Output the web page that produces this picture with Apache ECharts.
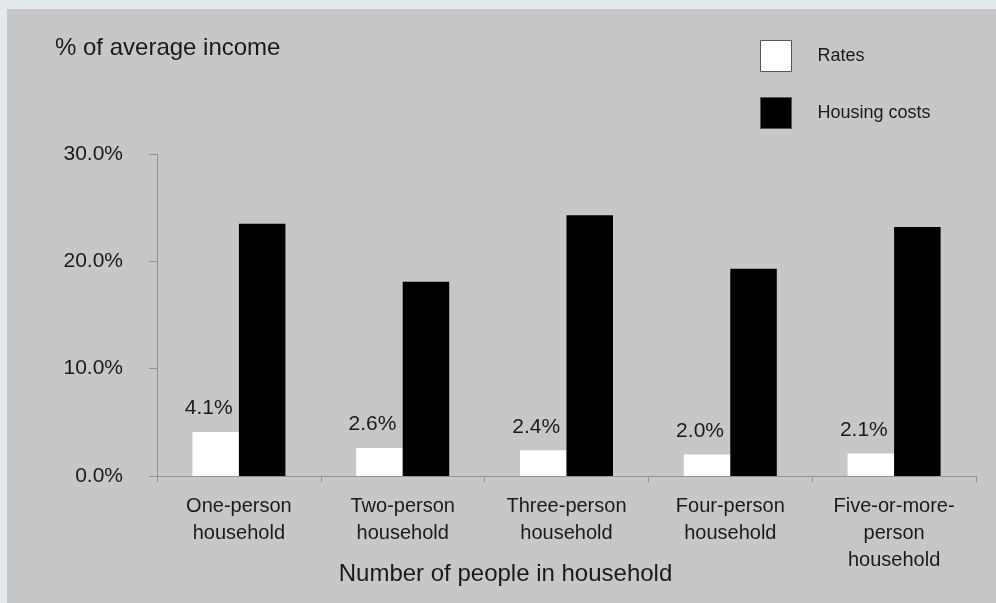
<!DOCTYPE html>
<html>
<head>
<meta charset="utf-8">
<script src="https://cdn.jsdelivr.net/npm/echarts@6/dist/echarts.min.js"></script>
<style>
  html, body { margin: 0; padding: 0; background: #e3ebee; width: 996px; height: 603px; overflow: hidden; }
  #chart { position: absolute; left: 7px; top: 9px; width: 989px; height: 594px; background: #c6c7c9; }
</style>
</head>
<body>
<div id="chart"></div>
<script>
// Household size categories (x axis)
const categories = [
  'One-person\nhousehold',
  'Two-person\nhousehold',
  'Three-person\nhousehold',
  'Four-person\nhousehold',
  'Five-or-more-\nperson\nhousehold'
];
// Share of average income, percent
const rates = [4.1, 2.6, 2.4, 2.0, 2.1];
const housingCosts = [23.5, 18.1, 24.3, 19.3, 23.2];
// Value axis ticks
const yMin = 0, yMax = 30, yStep = 10;

const FONT = '"Liberation Sans", Arial, Helvetica, sans-serif';
const INK = '#1a1a1a';
const AXIS = '#939393';

const chart = echarts.init(document.getElementById('chart'), null, { renderer: 'canvas' });
chart.setOption({
  animation: false,
  backgroundColor: 'transparent',
  textStyle: { fontFamily: FONT, color: INK },
  title: {
    text: '% of average income',
    left: 48,
    top: 27,
    padding: 0,
    textStyle: { fontFamily: FONT, fontSize: 24, fontWeight: 'normal', color: INK }
  },
  legend: {
    orient: 'vertical',
    left: 753,
    top: 31,
    padding: 0,
    itemWidth: 31,
    itemHeight: 31,
    itemGap: 25,
    icon: 'rect',
    selectedMode: false,
    data: [
      { name: 'Rates', itemStyle: { color: '#ffffff', borderColor: '#555555', borderWidth: 1 } },
      { name: 'Housing costs', itemStyle: { color: '#000000', borderColor: '#555555', borderWidth: 1 } }
    ],
    textStyle: { fontFamily: FONT, fontSize: 18, color: INK, padding: [0, 0, 0, 21] }
  },
  grid: { left: 150, right: 20, top: 145, bottom: 127, containLabel: false, outerBoundsMode: 'none' },
  xAxis: {
    type: 'category',
    data: categories,
    name: 'Number of people in household',
    nameLocation: 'middle',
    nameGap: 86,
    nameMoveOverlap: false,
    nameTextStyle: { fontFamily: FONT, fontSize: 24, color: INK, padding: [0, 122, 0, 0] },
    axisLine: { show: true, lineStyle: { color: AXIS, width: 1 } },
    axisTick: { show: true, length: 6, alignWithLabel: false, lineStyle: { color: AXIS } },
    axisLabel: { interval: 0, fontFamily: FONT, fontSize: 20, lineHeight: 27, color: INK, margin: 17 },
    splitLine: { show: false }
  },
  yAxis: {
    type: 'value',
    min: yMin,
    max: yMax,
    interval: yStep,
    axisLine: { show: true, lineStyle: { color: AXIS, width: 1 } },
    axisTick: { show: true, length: 8, inside: false, lineStyle: { color: AXIS } },
    axisLabel: {
      fontFamily: FONT, fontSize: 21, color: INK, margin: 34,
      formatter: v => v.toFixed(1) + '%'
    },
    splitLine: { show: false }
  },
  series: [
    {
      name: 'Rates',
      type: 'bar',
      data: rates,
      barWidth: 46.5,
      barGap: '0%',
      itemStyle: { color: '#ffffff' },
      label: {
        show: true,
        position: 'top',
        distance: 13,
        offset: [-7, 0],
        fontFamily: FONT,
        fontSize: 21,
        color: INK,
        formatter: p => p.value.toFixed(1) + '%'
      }
    },
    {
      name: 'Housing costs',
      type: 'bar',
      data: housingCosts,
      barWidth: 46.5,
      barGap: '0%',
      itemStyle: { color: '#000000' }
    }
  ]
});
</script>
</body>
</html>
